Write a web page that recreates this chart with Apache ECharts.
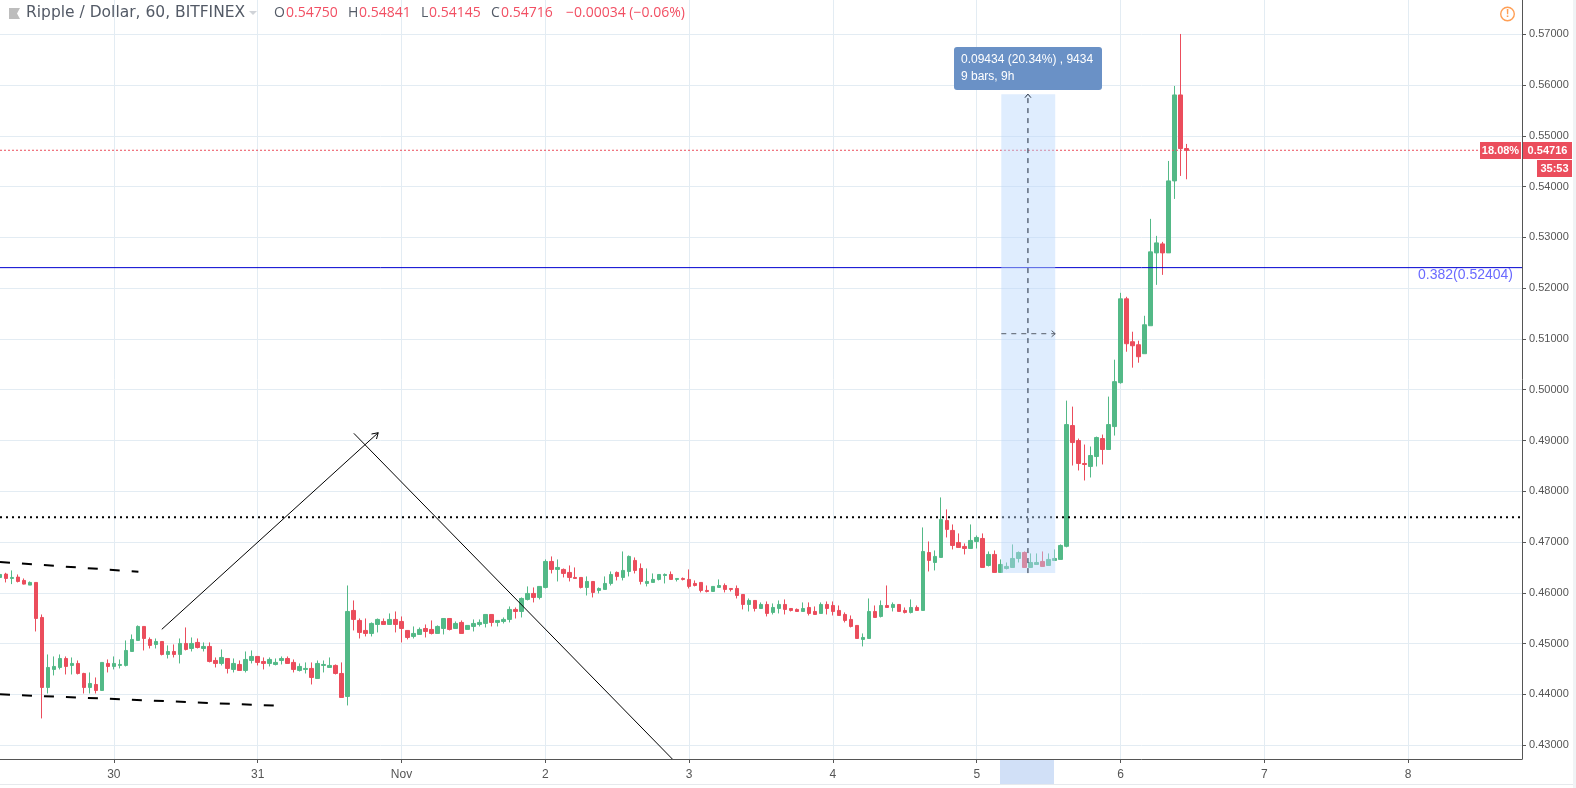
<!DOCTYPE html>
<html><head><meta charset="utf-8">
<style>html,body{margin:0;padding:0;background:#fff;overflow:hidden}#c{width:1576px;height:788px}</style>
<script src="https://cdn.jsdelivr.net/npm/echarts@6/dist/echarts.min.js"></script>
</head><body><div id="c"></div>
<script>
const opens=[.46302,.46368,.46282,.46309,.46243,.46151,.46204,.45514,.44135,.44490,.44529,.44706,.44569,.44608,.44411,.44135,.44194,.44076,.44608,.44549,.44569,.44569,.44844,.45061,.45337,.45081,.44982,.45041,.44785,.44844,.44785,.45002,.44903,.45022,.44903,.44943,.44667,.44608,.44706,.44490,.44588,.44470,.44667,.44746,.44647,.44608,.44588,.44667,.44706,.44628,.44470,.44490,.44510,.44312,.44569,.44529,.44569,.44411,.43958,
.45652,.45455,.45258,.45199,.45376,.45435,.45376,.45475,.45435,.45258,.45140,.45179,.45297,.45278,.45199,.45297,.45494,.45297,.45416,.45278,.45337,.45376,.45396,.45573,.45416,.45435,.45475,.45672,.45632,.45869,.45987,.45908,.46105,.46617,.46460,.46460,.46401,.46302,.46302,.46105,.46223,.46046,.46066,.46184,.46401,.46302,.46420,.46637,.46479,.46184,.46204,.46263,.46341,.46361,.46263,.46282,.46263,
.46184,.46204,.46046,.46026,.46105,.46144,.46085,.46085,.45967,.45770,.45849,.45691,.45770,.45613,.45691,.45770,.45691,.45672,.45632,.45711,.45632,.45593,.45770,.45750,.45652,.45573,.45475,.45357,.45081,.45100,.45632,.45534,.45750,.45711,.45770,.45652,.45613,.45711,.45652,.46794,.46597,.46696,.47425,.47228,.46991,.46913,.46873,.47011,.47070,.46538,.46755,.46401,.46479,.46499,.46676,.46794,.46499,.46558,.46617,.46538,.46637,.46657,
.46915,.49294,.48999,.48547,.48488,.48684,.49038,.48822,.49274,.50139,.51790,.50945,.50886,.50709,.51260,.52695,.52872,.52695,.54113,.55806,.54750];
const closes=[.46361,.46282,.46302,.46223,.46171,.46204,.45494,.44135,.44529,.44549,.44706,.44549,.44608,.44411,.44135,.44214,.44076,.44628,.44549,.44608,.44588,.44864,.45081,.45337,.45100,.44963,.45041,.44785,.44844,.44785,.45002,.44884,.45002,.44923,.44943,.44647,.44608,.44726,.44510,.44608,.44470,.44687,.44746,.44628,.44608,.44687,.44628,.44706,.44608,.44490,.44549,.44510,.44332,.44608,.44588,.44569,.44411,.43938,.45632,
.45475,.45219,.45199,.45396,.45475,.45376,.45475,.45376,.45297,.45120,.45199,.45278,.45238,.45199,.45337,.45494,.45278,.45396,.45199,.45357,.45396,.45416,.45573,.45416,.45455,.45475,.45672,.45632,.45888,.45987,.45908,.46125,.46617,.46460,.46499,.46381,.46302,.46282,.46105,.46223,.46007,.46085,.46184,.46361,.46322,.46440,.46716,.46440,.46223,.46223,.46263,.46361,.46361,.46263,.46282,.46263,.46125,
.46144,.46046,.46026,.46125,.46144,.46066,.46066,.45947,.45770,.45849,.45691,.45770,.45593,.45711,.45770,.45672,.45652,.45632,.45691,.45593,.45573,.45770,.45691,.45632,.45553,.45455,.45337,.45100,.45120,.45632,.45514,.45750,.45711,.45770,.45632,.45613,.45711,.45652,.46814,.46637,.46716,.47445,.47248,.46932,.46893,.46873,.47031,.47090,.46499,.46755,.46401,.46558,.46519,.46676,.46794,.46499,.46597,.46597,.46519,.46657,.46676,.46932,
.49313,.48959,.48547,.48527,.48704,.49058,.48822,.49313,.50159,.51790,.50906,.50866,.50650,.51279,.52715,.52892,.52695,.54113,.55806,.54750,.54716];
const lows=[.46282,.46204,.46171,.46204,.46164,.46151,.45238,.43525,.44017,.44372,.44490,.44391,.44391,.44391,.44017,.44017,.44017,.44076,.44431,.44490,.44510,.44549,.44844,.45061,.44864,.44903,.44903,.44766,.44706,.44726,.44608,.44864,.44844,.44903,.44844,.44628,.44529,.44569,.44411,.44431,.44470,.44431,.44608,.44569,.44490,.44549,.44569,.44588,.44608,.44431,.44450,.44411,.44194,.44312,.44431,.44529,.44391,.43938,.43781,
.45258,.45100,.45140,.45140,.45219,.45376,.45376,.45219,.45022,.45081,.45100,.45179,.45120,.45179,.45199,.45179,.45258,.45297,.45199,.45278,.45238,.45337,.45317,.45337,.45337,.45396,.45416,.45494,.45514,.45849,.45810,.45869,.46085,.46381,.46223,.46302,.46223,.46282,.46085,.45947,.45908,.45987,.46066,.46144,.46243,.46243,.46322,.46381,.46164,.46125,.46204,.46243,.46184,.46263,.46223,.46243,.46085,
.46125,.46007,.46007,.46026,.46105,.46007,.46026,.45888,.45672,.45632,.45632,.45691,.45534,.45573,.45593,.45573,.45632,.45632,.45632,.45553,.45573,.45593,.45573,.45553,.45553,.45416,.45317,.45100,.44943,.45100,.45514,.45514,.45711,.45632,.45632,.45593,.45593,.45652,.45652,.46420,.46440,.46696,.47090,.46854,.46893,.46755,.46873,.46873,.46499,.46519,.46401,.46401,.46460,.46499,.46597,.46499,.46499,.46558,.46519,.46538,.46637,.46657,
.46895,.48507,.48409,.48212,.48271,.48488,.48527,.48822,.49097,.50119,.50748,.50434,.50532,.50709,.51260,.52065,.52262,.52695,.53758,.54211,.54145];
const highs=[.46381,.46394,.46440,.46361,.46282,.46223,.46204,.45573,.44785,.44746,.44785,.44746,.44726,.44667,.44424,.44431,.44332,.44628,.44687,.44746,.44687,.45061,.45179,.45357,.45337,.45120,.45100,.45041,.44963,.44982,.45100,.45317,.45120,.45100,.45022,.45022,.44726,.44884,.44706,.44706,.44667,.44844,.44864,.44746,.44726,.44726,.44706,.44746,.44746,.44687,.44608,.44628,.44628,.44667,.44667,.44726,.44588,.44628,.46144,
.45849,.45494,.45494,.45416,.45494,.45494,.45593,.45632,.45534,.45258,.45337,.45317,.45376,.45455,.45357,.45494,.45494,.45435,.45455,.45357,.45475,.45475,.45573,.45573,.45455,.45514,.45731,.45711,.45908,.46125,.46105,.46125,.46657,.46716,.46657,.46479,.46538,.46499,.46302,.46322,.46223,.46105,.46322,.46420,.46420,.46814,.46735,.46696,.46578,.46479,.46381,.46361,.46381,.46420,.46282,.46302,.46460,
.46243,.46204,.46144,.46125,.46263,.46184,.46085,.46144,.45967,.45888,.45849,.45810,.45829,.45790,.45849,.45869,.45691,.45691,.45810,.45810,.45731,.45810,.45829,.45829,.45750,.45613,.45553,.45357,.45199,.45888,.45750,.45849,.46144,.45810,.45770,.45711,.45869,.45750,.47287,.47011,.46834,.47878,.47642,.47346,.47169,.46972,.47346,.47129,.47169,.46814,.46834,.46657,.46597,.46952,.46814,.46814,.46775,.46775,.46814,.46775,.46854,.46952,
.49785,.49667,.49038,.48920,.48881,.49077,.49117,.49864,.50591,.51908,.51830,.51142,.50965,.51456,.53365,.53030,.52912,.54506,.55983,.57007,.54841];
const dayLabels={19:'30',43:'31',67:'Nov',91:'2',115:'3',139:'4',163:'5',187:'6',211:'7',235:'8'};
const slotCount=255;
const yTicks=[.43,.44,.45,.46,.47,.48,.49,.50,.51,.52,.53,.54,.55,.56,.57];
const lastPrice=.54716, fibPrice=.52404, dottedPrice=.47486;
const trendUp=[[27,.45280],[63.12,.49153]];
const trendUpHead=[[62.0,.49127],[63.12,.49153],[62.83,.49029]];
const trendDown=[[59.05,.49141],[112.2,.42726]];
const channelTop=[[0,.46606],[23.1,.46415]];
const channelBottom=[[0,.44000],[46,.43776]];
const rangeX=[167.1,176.1], rangeY=[.46388,.55822];
const measureX=171.55, measureY=.51103;

const GREEN='#53b987',RED='#eb4d5c',GRID='#e3ecf3',AXIS='#555',F='"Liberation Sans",Arial,sans-serif',H='"Open Sans",sans-serif';
const cats=Array.from({length:slotCount},(_,i)=>dayLabels[i]||'');
const candle=opens.map((o,i)=>[o,closes[i],lows[i],highs[i]]);
const isDay=(i)=>!!dayLabels[i];
function ln(data,o){return Object.assign({type:'line',xAxisIndex:1,yAxisIndex:0,data,symbol:'none',silent:true,animation:false,z:3,lineStyle:{color:'#000',width:1}},o||{});}
const right=slotCount-1;
const chart=echarts.init(document.getElementById('c'),null,{renderer:'canvas'});
const T=(x,y,text,fill,extra)=>({type:'text',x,y,z:100,silent:true,style:Object.assign({text,fill,font:'14px '+H,textVerticalAlign:'middle'},extra||{})});
const R=(x,y,w,h,fill,r)=>({type:'rect',z:99,silent:true,shape:{x,y,width:w,height:h,r:r||0},style:{fill}});
const hy=13;
const graphics=[
 R(1573,0,3,788,'#f0f3f5'),
 R(0,784,1573,1,'#e6e9ec'),
 R(1000,760,54,24,'#d1e0f7'),
 {type:'polygon',z:100,silent:true,shape:{points:[[9,8],[20,8],[17,13.5],[20,19],[9,19]]},style:{fill:'#bdbdbd'}},
 T(26,hy,'Ripple / Dollar, 60, BITFINEX','#535a66',{font:'15.5px "DejaVu Sans",sans-serif'}),
 {type:'polygon',z:100,silent:true,shape:{points:[[249,11],[257,11],[253,15]]},style:{fill:'#d0d3d8'}},
 T(274,hy,'O','#535a66'),T(286,hy,'0.54750','#f24f63'),
 T(348,hy,'H','#535a66'),T(359,hy,'0.54841','#f24f63'),
 T(421,hy,'L','#535a66'),T(429,hy,'0.54145','#f24f63'),
 T(491,hy,'C','#535a66'),T(501,hy,'0.54716','#f24f63'),
 T(566,hy,'−0.00034 (−0.06%)','#f24f63'),
 {type:'circle',z:100,silent:true,shape:{cx:1507.5,cy:14,r:6.8},style:{fill:'#fff',stroke:'#ff9f55',lineWidth:1.4}},
 T(1507.5,14,'!','#ff9f55',{font:'bold 11px '+F,textAlign:'center'}),
 T(1513,275.5,'0.382(0.52404)','#6a6aff',{font:'14px '+F,textAlign:'right'}),
 R(1480,142,41,17,RED),R(1523,142,49,17,RED),R(1537,160,35,17,RED),
 T(1500.5,150.5,'18.08%','#fff',{font:'bold 11px '+F,textAlign:'center'}),
 T(1547.5,150.5,'0.54716','#fff',{font:'bold 11px '+F,textAlign:'center'}),
 T(1554.5,168.5,'35:53','#fff',{font:'bold 11px '+F,textAlign:'center'}),
 R(954,47,148,43,'#6a91c6',3),
 T(961,60,'0.09434 (20.34%) , 9434','#fff',{font:'12px '+F}),
 T(961,77,'9 bars, 9h','#fff',{font:'12px '+F})
];
const dashStyle=(c,w,d)=>({color:c,width:w,type:d});
chart.setOption({
 animation:false,backgroundColor:'#fff',
 grid:{left:-2,top:0,width:1524,height:759,containLabel:false},
 xAxis:[
  {type:'category',data:cats,boundaryGap:false,position:'bottom',
   axisLine:{show:true,onZero:false,lineStyle:{color:AXIS,width:1}},
   axisTick:{show:true,length:4,interval:isDay,alignWithLabel:true,lineStyle:{color:AXIS}},
   axisLabel:{show:true,interval:isDay,margin:10,color:'#555',fontFamily:F,fontSize:12},
   splitLine:{show:true,interval:isDay,lineStyle:{color:GRID,width:1}}},
  {type:'value',min:0,max:slotCount-1,show:false,splitLine:{show:false}}
 ],
 yAxis:[{type:'value',position:'right',min:.42726,max:.57676,scale:true,
   axisLine:{show:true,onZero:false,lineStyle:{color:AXIS,width:1}},
   axisTick:{show:true,length:4,customValues:yTicks,lineStyle:{color:AXIS}},
   axisLabel:{show:true,customValues:yTicks,margin:7,padding:[2,0,0,0],color:'#555',fontFamily:F,fontSize:11,formatter:v=>v.toFixed(5)},
   splitLine:{show:true,lineStyle:{color:GRID,width:1}}}],
 series:[
  {type:'candlestick',data:candle,xAxisIndex:0,yAxisIndex:0,barWidth:4,silent:true,z:2,
   itemStyle:{color:GREEN,color0:RED,borderColor:GREEN,borderColor0:RED,borderWidth:1}},
  ln(channelTop,{lineStyle:dashStyle('#000',2,[10,12])}),
  ln(channelBottom,{lineStyle:dashStyle('#000',2,[10,12])}),
  ln(trendUp),ln(trendUpHead),ln(trendDown),
  ln([[0,dottedPrice],[right,dottedPrice]],{lineStyle:dashStyle('#000',2,[2,4])}),
  ln([[0,fibPrice],[right,fibPrice]],{lineStyle:{color:'#0000d0',width:1}}),
  ln([[0,lastPrice],[247,lastPrice]],{lineStyle:dashStyle(RED,1,[2,2])}),
  ln([[rangeX[0],rangeY[0]],[rangeX[1],rangeY[0]]],{z:4,lineStyle:{width:0,opacity:0},
    markArea:{silent:true,z:4,itemStyle:{color:'rgba(185,215,253,0.45)'},data:[[{coord:[rangeX[0],rangeY[0]]},{coord:[rangeX[1],rangeY[1]]}]]}}),
  ln([[measureX,rangeY[0]],[measureX,rangeY[1]]],{z:5,lineStyle:dashStyle('#1f2a3c',1,[5,5])}),
  ln([[measureX-.5,rangeY[1]-.0007],[measureX,rangeY[1]],[measureX+.5,rangeY[1]-.0007]],{z:5,lineStyle:{color:'#1f2a3c',width:1}}),
  ln([[rangeX[0],measureY],[rangeX[1],measureY]],{z:5,lineStyle:dashStyle('#555c68',1,[5,5])}),
  ln([[rangeX[1]-.6,measureY+.0006],[rangeX[1],measureY],[rangeX[1]-.6,measureY-.0006]],{z:5,lineStyle:{color:'#555c68',width:1}})
 ],
 graphic:{elements:graphics}
});
</script></body></html>
